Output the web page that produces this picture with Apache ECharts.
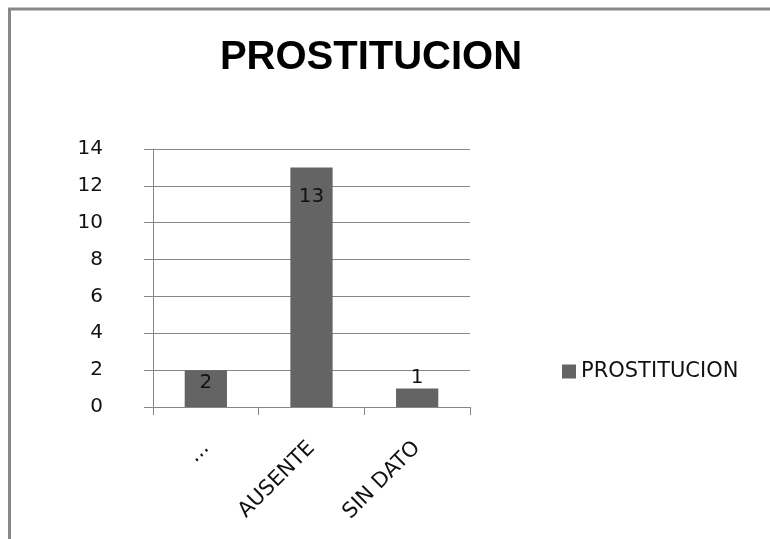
<!DOCTYPE html>
<html>
<head>
<meta charset="utf-8">
<script src="https://cdn.jsdelivr.net/npm/echarts@6/dist/echarts.min.js"></script>
<style>
  html, body { margin: 0; padding: 0; background: #fff; }
  #chart { width: 770px; height: 539px; }
</style>
</head>
<body>
<div id="chart"></div>
<script>
const categories = ['...', 'AUSENTE', 'SIN DATO']
const values = [2, 13, 1]
const seriesName = 'PROSTITUCION'
const titleText = 'PROSTITUCION'

// label placement per bar, like the excel export (inside end, outside if too small)
const labelPos = [
  { position: 'insideTop', distance: 3 },
  { position: 'insideTop', distance: 19 },
  { position: 'top', distance: 1 }
]

const font = 'DejaVu Sans'
const gridColor = '#878787'

const chart = echarts.init(document.getElementById('chart'))

const option = {
  backgroundColor: '#fff',
  animation: false,
  title: {
    text: titleText,
    left: 366,
    top: 33,
    textAlign: 'center',
    textStyle: {
      fontFamily: 'Liberation Sans',
      fontWeight: 'bold',
      fontSize: 40,
      color: '#000'
    }
  },
  legend: {
    data: [seriesName],
    left: 557,
    top: 356,
    itemWidth: 14,
    itemHeight: 14,
    icon: 'rect',
    itemGap: 8,
    textStyle: {
      fontFamily: font,
      fontSize: 21,
      color: '#111',
      padding: [0, 0, 0, 0]
    }
  },
  grid: {
    left: 153,
    right: 300,
    top: 149,
    bottom: 132
  },
  xAxis: {
    type: 'category',
    data: categories,
    axisLine: { lineStyle: { color: gridColor, width: 1 } },
    axisTick: {
      show: true,
      length: 8,
      alignWithLabel: false,
      lineStyle: { color: gridColor }
    },
    axisLabel: {
      rotate: 45,
      margin: 38,
      fontFamily: font,
      fontSize: 21,
      color: '#111',
      interval: 0
    }
  },
  yAxis: {
    type: 'value',
    min: 0,
    max: 14,
    interval: 2,
    axisLine: { show: true, lineStyle: { color: gridColor, width: 1 } },
    axisTick: {
      show: true,
      length: 9,
      lineStyle: { color: gridColor }
    },
    axisLabel: {
      margin: 50,
      align: 'right',
      fontFamily: font,
      fontSize: 20,
      color: '#111'
    },
    splitLine: {
      show: true,
      lineStyle: { color: gridColor, width: 1 }
    }
  },
  series: [{
    name: seriesName,
    type: 'bar',
    barWidth: '40%',
    itemStyle: { color: '#646464' },
    label: {
      show: true,
      fontFamily: font,
      fontSize: 20,
      color: '#111'
    },
    data: values.map((v, i) => ({
      value: v,
      label: labelPos[i]
    }))
  }],
  graphic: [
    {
      type: 'polyline',
      shape: { points: [[9.5, 545], [9.5, 9], [775, 9]] },
      style: { stroke: '#888', lineWidth: 3, fill: null },
      silent: true
    }
  ]
}

chart.setOption(option)
</script>
</body>
</html>
